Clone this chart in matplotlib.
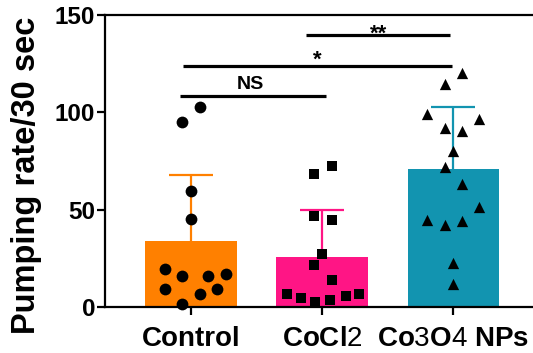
import matplotlib
matplotlib.use("Agg")
import matplotlib.pyplot as plt
import numpy as np

plt.rcParams['font.family'] = ['Liberation Sans', 'DejaVu Sans']
plt.rcParams['mathtext.fontset'] = 'custom'
plt.rcParams['mathtext.rm'] = 'Liberation Sans'
plt.rcParams['mathtext.bf'] = 'Liberation Sans:bold'

# ---- data ----
categories = ["Control", r"CoCl$\mathrm{2}$", r"Co$\mathrm{3}$O$\mathrm{4}$ NPs"]
means = [34, 26, 71]
sds = [34, 24, 32]
colors = ['#FF8000', '#FF1585', '#1294B0']
markers = ['o', 's', '^']

control_vals = [102.7, 95.3, 59.8, 45.6, 19.9, 15.9, 15.9, 17.0, 9.6, 9.6, 7.0, 1.9]
control_jit = [0.067, -0.067, 0, 0, -0.2, -0.067, 0.133, 0.267, -0.2, 0.2, 0.067, -0.067]
cocl2_vals = [72.6, 68.7, 46.8, 44.7, 27.6, 22.0, 13.9, 6.7, 5.0, 2.7, 4.0, 5.8, 6.7]
cocl2_jit = [0.074, -0.06, -0.06, 0.074, 0, -0.06, 0.074, -0.27, -0.16, -0.05, 0.06, 0.18, 0.28]
co3o4_vals = [120.1, 114.5, 99.2, 96.5, 92.2, 90.5, 80.2, 72.1, 63.2, 51.6, 45.1, 42.2, 44.2, 22.8, 12.2]
co3o4_jit = [0.07, -0.06, -0.2, 0.2, -0.06, 0.07, 0, -0.06, 0.07, 0.2, -0.2, -0.06, 0.07, 0, 0]

groups = [(control_vals, control_jit), (cocl2_vals, cocl2_jit), (co3o4_vals, co3o4_jit)]

# significance brackets: (x_start, x_end, y, label, label_y)
sig = [(-0.08, 1.03, 108.5, 'NS', 112.3),
       (-0.06, 1.99, 124.0, '*', 124.0),
       (0.88, 1.98, 139.8, '**', 137.5)]

yticks = [0, 50, 100, 150]

# ---- figure ----
fig = plt.figure(figsize=(5.33, 3.53), dpi=100)
ax = fig.add_axes([0.197, 0.129, 0.803, 0.8285])

x = np.arange(len(categories))
ax.bar(x, means, width=0.695, color=colors, zorder=2)
for i in range(len(categories)):
    eb = ax.errorbar(x[i], means[i], yerr=[[0], [sds[i]]], fmt='none', ecolor=colors[i],
                     elinewidth=1.6, capsize=15.5, capthick=1.6, zorder=1.5)
    caps = eb[1]
    if len(caps) == 2:
        caps[0].set_visible(False)
for i, (vals, jit) in enumerate(groups):
    ax.scatter(x[i] + np.array(jit), vals, marker=markers[i], color='black',
               s=[72, 58, 66][i], zorder=3, linewidths=0, clip_on=False)

for x0, x1, yy, lab, ly in sig:
    ax.plot([x0, x1], [yy, yy], color='black', lw=2.3, solid_capstyle='butt', zorder=4)
    fs = 14 if lab == 'NS' else 16
    ax.text((x0 + x1) / 2 - (0.02 if lab == 'NS' else 0), ly, lab, ha='center', va='baseline',
            fontsize=fs, fontweight='bold', zorder=4)

ax.set_xlim(-0.656, 2.61)
ax.set_ylim(0, 150)
ax.set_yticks(yticks)
ax.set_yticklabels([str(t) for t in yticks], fontweight='bold', fontsize=17.5)
ax.set_xticks(x)
ax.set_xticklabels(categories, fontweight='bold', fontsize=20)

ax.set_ylabel('Pumping rate/30 sec', fontsize=23.5, fontweight='bold')
ax.yaxis.set_label_coords(-0.147, 0.453)

for s in ['left', 'bottom', 'top']:
    ax.spines[s].set_linewidth(1.6)
ax.spines['right'].set_visible(False)
ax.tick_params(axis='y', length=6, width=1.6, pad=1)
ax.tick_params(axis='x', length=5.5, width=1.6, pad=8)

fig.savefig('out.png', dpi=100)
